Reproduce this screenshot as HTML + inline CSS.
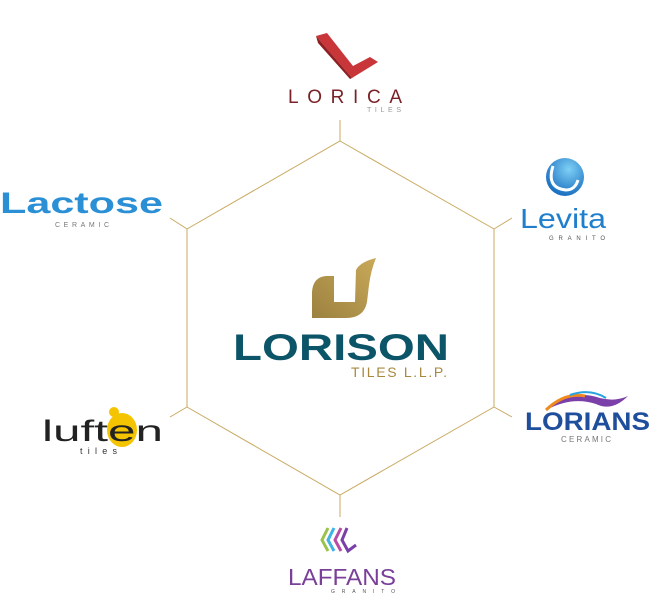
<!DOCTYPE html>
<html><head><meta charset="utf-8"><style>
html,body{margin:0;padding:0;background:#fff;width:657px;height:616px;overflow:hidden}
svg{display:block}
text{font-family:"Liberation Sans",sans-serif}
</style></head><body>
<svg width="657" height="616" viewBox="0 0 657 616" xmlns="http://www.w3.org/2000/svg">
<defs>
<linearGradient id="g1" x1="0" y1="1" x2="1" y2="0"><stop offset="0" stop-color="#9c8240"/><stop offset="1" stop-color="#c9a95a"/></linearGradient>
<radialGradient id="b1" cx="0.6" cy="0.3" r="0.7"><stop offset="0" stop-color="#7ed0f5"/><stop offset="1" stop-color="#1a6fc0"/></radialGradient>
</defs>
<g stroke="#c9aa62" stroke-width="1" fill="none">
<polygon points="340,141 494,229 494,407 340,495 187,407 187,229"/>
<line x1="340" y1="120" x2="340" y2="141"/>
<line x1="340" y1="495" x2="340" y2="517"/>
<line x1="187" y1="229" x2="170" y2="218"/>
<line x1="494" y1="229" x2="512" y2="218"/>
<line x1="187" y1="407" x2="170" y2="417"/>
<line x1="494" y1="407" x2="512" y2="417"/>
</g>
<!-- center logo -->
<path d="M326,276 Q313,277 312,292 L312,318 L346,318 Q364,318 367,302 L369,285 Q371,270 376,258 Q360,262 356,270 L355,302 L334,302 L334,276 Z" fill="url(#g1)"/>
<text x="233" y="360" font-size="37" font-weight="bold" fill="#0c5569" textLength="216" lengthAdjust="spacingAndGlyphs">LORISON</text>
<text x="351" y="377" font-size="14" fill="#a8893f" textLength="96" lengthAdjust="spacing">TILES L.L.P.</text>
<!-- Lorica -->
<path d="M316,36 L327,33 L353,66 L370,57 L378,62 L352,78 Z" fill="#c8363a"/>
<path d="M316,36 L318,43 L350,79 L352,78 Z" fill="#8e1f22"/>
<text x="288" y="103" font-size="19" fill="#7a2228" textLength="114" lengthAdjust="spacing">LORICA</text>
<text x="367" y="112" font-size="7" fill="#999" textLength="34" lengthAdjust="spacing">TILES</text>
<!-- Lactose -->
<text x="0" y="213" font-size="30" font-weight="bold" fill="#2b8fd6" textLength="163" lengthAdjust="spacingAndGlyphs">Lactose</text>
<text x="55" y="227" font-size="7" fill="#777" textLength="54" lengthAdjust="spacing">CERAMIC</text>
<!-- Levita -->
<circle cx="565" cy="177" r="19" fill="url(#b1)"/>
<path d="M553,166 Q546,188 566,190 Q575,190 578,180" stroke="#fff" stroke-width="3" fill="none"/>
<text x="520" y="228" font-size="28" fill="#1f7fcc" textLength="86" lengthAdjust="spacingAndGlyphs">Levita</text>
<text x="549" y="240" font-size="6" fill="#555" textLength="56" lengthAdjust="spacing">GRANITO</text>
<!-- Luften -->
<circle cx="114" cy="412" r="5" fill="#f5c400"/>
<ellipse cx="122" cy="430" rx="15" ry="17" fill="#f5c400"/>
<text x="42" y="441" font-size="30" fill="#222" textLength="121" lengthAdjust="spacingAndGlyphs">luften</text>
<text x="80" y="454" font-size="9" fill="#333" textLength="37" lengthAdjust="spacing">tiles</text>
<!-- Lorians -->
<path d="M546,410 Q570,388 600,398 Q615,402 628,396 Q612,412 596,404 Q572,396 546,410 Z" fill="#7a3fa8"/>
<path d="M546,410 Q565,392 585,396" stroke="#f08a1e" stroke-width="3" fill="none"/>
<path d="M570,395 Q590,388 606,398" stroke="#29a3dd" stroke-width="2" fill="none"/>
<text x="525" y="430" font-size="25" font-weight="bold" fill="#1f4f9c" textLength="125" lengthAdjust="spacingAndGlyphs">LORIANS</text>
<text x="561" y="442" font-size="8" fill="#777" textLength="50" lengthAdjust="spacing">CERAMIC</text>
<!-- Laffans -->
<g stroke-width="3" fill="none">
<path d="M328,528 L322,540 L328,551" stroke="#9bc24a"/>
<path d="M334,528 L328,540 L334,551" stroke="#3fb3e6"/>
<path d="M341,528 L335,540 L341,551" stroke="#b84ba6"/>
<path d="M347,528 L342,540 L348,551 L356,545" stroke="#7a3fa8"/>
</g>
<text x="288" y="585" font-size="23" fill="#7a3f98" textLength="108" lengthAdjust="spacingAndGlyphs">LAFFANS</text>
<text x="331" y="593" font-size="5" fill="#555" textLength="64" lengthAdjust="spacing">GRANITO</text>
</svg>
</body></html>
